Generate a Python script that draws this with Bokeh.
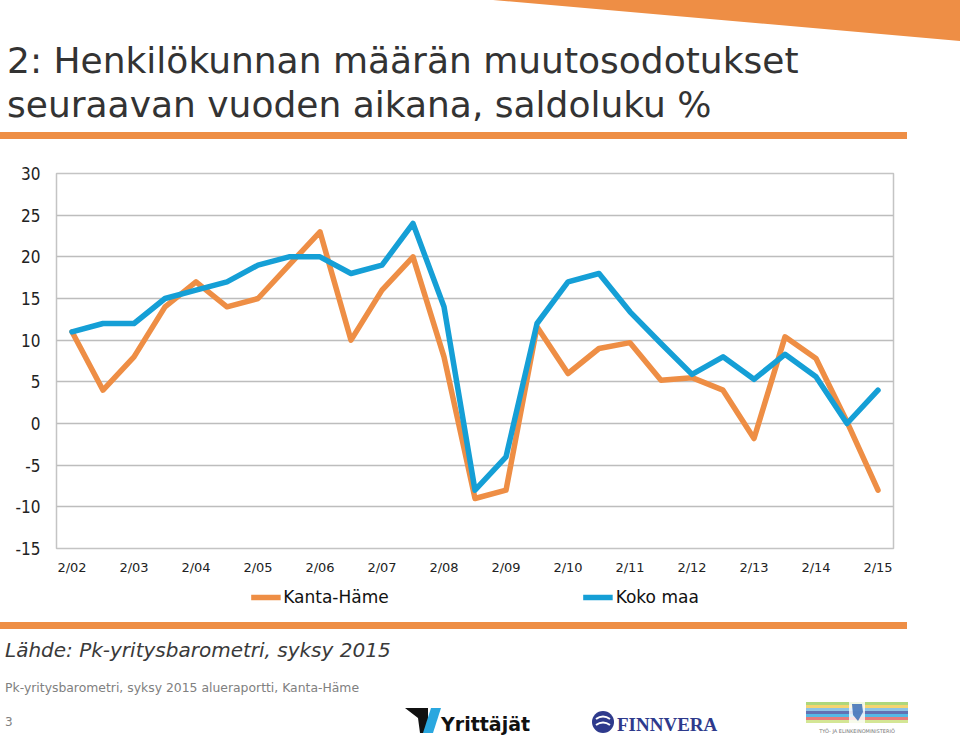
from bokeh.plotting import figure
from bokeh.layouts import column
from bokeh.models import (Range1d, FixedTicker, ColumnDataSource, Legend, LegendItem, Div)
from bokeh.embed import file_html
from bokeh.resources import INLINE

# ---- data ----
periods = ["2/02", "1/03", "2/03", "1/04", "2/04", "1/05", "2/05", "1/06", "2/06",
           "1/07", "2/07", "1/08", "2/08", "1/09", "2/09", "1/10", "2/10", "1/11",
           "2/11", "1/12", "2/12", "1/13", "2/13", "1/14", "2/14", "1/15", "2/15"]
kanta_hame = [11, 4, 8, 14, 17, 14, 15, 19, 23, 10, 16, 20, 8, -9, -8, 11.6, 6, 9,
              9.7, 5.2, 5.5, 4, -1.8, 10.4, 7.8, 0.2, -8]
koko_maa = [11, 12, 12, 15, 16, 17, 19, 20, 20, 18, 19, 24, 14, -8, -4, 12, 17, 18,
            13.4, 9.6, 5.9, 8, 5.3, 8.3, 5.6, 0, 4]
y_ticks = [-15, -10, -5, 0, 5, 10, 15, 20, 25, 30]
series_names = ["Kanta-Häme", "Koko maa"]

title_lines = ["2: Henkilökunnan määrän muutosodotukset",
               "seuraavan vuoden aikana, saldoluku %"]
source_text = "Lähde: Pk-yritysbarometri, syksy 2015"
footer_text = "Pk-yritysbarometri, syksy 2015 alueraportti, Kanta-Häme"
page_no = "3"
logo_texts = ["Yrittäjät", "FINNVERA", "TYÖ- JA ELINKEINOMINISTERIÖ"]

ORANGE = "#EE8E45"
BLUE = "#159FD6"
W = 960
HEAD_H = 160                      # header 0-160
CHART_H = 417                     # chart 160-577
LEG_H = 40                        # legend 577-617
FOOT_TOP = HEAD_H + CHART_H + LEG_H
FOOT_H = 744 - FOOT_TOP           # footer 617-744
FL, FR, FT, FB = 56, 893, 173, 548  # chart frame edges in page pixels


def svg_div(height, top, body):
    svg = (f'<svg xmlns="http://www.w3.org/2000/svg" width="{W}" height="{height}" '
           f'style="display:block" viewBox="0 {top} {W} {height}">{body}</svg>')
    return Div(text=svg, width=W, height=height, margin=0,
               styles={"margin": "0", "padding": "0", "line-height": "0"})


def svg_text(x, y, txt, size, color, family="DejaVu Sans", style="normal",
             weight="normal", anchor="start"):
    css = (f"font-family:'{family}';font-size:{size}px;font-style:{style};"
           f"font-weight:{weight};fill:{color}")
    return f'<text x="{x}" y="{y}" text-anchor="{anchor}" style="{css}">{txt}</text>'


# ---------------- header ----------------
head_body = f'<polygon points="493,0 960,0 960,41" fill="{ORANGE}"/>'
for txt, base in zip(title_lines, (73, 117)):
    head_body += svg_text(7, base, txt, 36, "#333333")
head_body += f'<rect x="0" y="132" width="907" height="7" fill="{ORANGE}"/>'
head = svg_div(HEAD_H, 0, head_body)

# ---------------- chart ----------------
idx = list(range(len(periods)))
src = ColumnDataSource(dict(x=idx, kh=kanta_hame, km=koko_maa))

p = figure(width=W, height=CHART_H, output_backend="svg", toolbar_location=None,
           x_range=Range1d(-0.5, len(periods) - 0.5), y_range=Range1d(-15, 30),
           min_border_left=FL, min_border_right=W - FR, min_border_top=FT - HEAD_H,
           min_border_bottom=HEAD_H + CHART_H - FB, margin=0)
p.background_fill_color = "white"
p.border_fill_color = "white"
p.outline_line_color = "#C4C4C4"
p.outline_line_width = 1.5

p.line("x", "kh", source=src, line_color=ORANGE, line_width=5.5,
       line_join="round", line_cap="round")
p.line("x", "km", source=src, line_color=BLUE, line_width=5.5,
       line_join="round", line_cap="round")

p.xgrid.visible = False
p.ygrid.grid_line_color = "#BDBDBD"
p.ygrid.grid_line_width = 1.5
p.yaxis.ticker = FixedTicker(ticks=y_ticks)
p.yaxis.major_label_overrides = {t: str(t) for t in y_ticks}
p.yaxis.axis_line_color = None
p.yaxis.major_tick_line_color = None
p.yaxis.minor_tick_line_color = None
p.yaxis.major_tick_out = 0
p.yaxis.major_tick_in = 0
p.yaxis.major_label_text_font = "DejaVu Sans Condensed"
p.yaxis.major_label_text_font_size = "17px"
p.yaxis.major_label_text_color = "#222222"
p.yaxis.major_label_standoff = 16

label_idx = [i for i, s in enumerate(periods) if s.startswith("2/")]
p.xaxis.ticker = FixedTicker(ticks=label_idx)
p.xaxis.major_label_overrides = {i: periods[i] for i in label_idx}
p.xaxis.axis_line_color = None
p.xaxis.major_tick_line_color = None
p.xaxis.minor_tick_line_color = None
p.xaxis.major_tick_out = 0
p.xaxis.major_tick_in = 0
p.xaxis.major_label_text_font = "DejaVu Sans"
p.xaxis.major_label_text_font_size = "13px"
p.xaxis.major_label_text_color = "#222222"
p.xaxis.major_label_standoff = 11

# ---------------- legend strip ----------------
# legend keys: the same series drawn in a range where they stay out of view
lg = figure(width=W, height=LEG_H, output_backend="svg", toolbar_location=None,
            x_range=Range1d(-3, -2), y_range=Range1d(0, 1), x_axis_type=None,
            y_axis_type=None, min_border=0, margin=0)
lg.grid.visible = False
lg.outline_line_color = None
lr1 = lg.line("x", "kh", source=src, line_color=ORANGE, line_width=5.5)
lr2 = lg.line("x", "km", source=src, line_color=BLUE, line_width=5.5)
legend = Legend(items=[LegendItem(label=series_names[0], renderers=[lr1]),
                       LegendItem(label=series_names[1], renderers=[lr2])],
                orientation="horizontal", location="center", spacing=194,
                glyph_width=30, glyph_height=20, label_standoff=3,
                border_line_color=None, background_fill_alpha=0,
                label_text_font="DejaVu Sans", label_text_font_size="17px",
                label_text_color="#111111", margin=0, padding=2)
lg.add_layout(legend)

# ---------------- footer ----------------
foot_body = f'<rect x="0" y="622" width="907" height="7" fill="{ORANGE}"/>'
foot_body += svg_text(5, 657, source_text, 20, "#3a3a3a", style="italic")
foot_body += svg_text(5, 692, footer_text, 12.4, "#808080")
foot_body += svg_text(5, 726, page_no, 12, "#808080")
# logos (approximate)
foot_body += '<polygon points="405,708 428,708 428,733 420,733 418,718" fill="#111111"/>'
foot_body += '<polygon points="431,708 441,708 433,733 423,733" fill="#2AA7DF"/>'
foot_body += svg_text(441, 731, logo_texts[0], 19, "#111111", weight="bold")
foot_body += '<circle cx="603" cy="722" r="11" fill="#2E3A8C"/>'
foot_body += ('<path d="M596,719 Q603,714 610,719 M596,725 Q603,720 610,725" '
              'stroke="white" stroke-width="2" fill="none"/>')
foot_body += svg_text(617, 731, logo_texts[1], 19, "#2E3A8C", family="Liberation Serif",
                      weight="bold")
stripe_cols = ["#9ACD5A", "#F2C94C", "#6FB5E0", "#3A4FA0", "#2AA7DF", "#E05A5A", "#C9E07A"]
for i, c in enumerate(stripe_cols):
    foot_body += (f'<rect x="806" y="{702 + 3 * i}" width="102" height="3" fill="{c}" '
                  f'fill-opacity="0.8"/>')
foot_body += '<rect x="849" y="700" width="16" height="23" fill="white" fill-opacity="0.8"/>'
foot_body += ('<path d="M852,704 L862,704 L863,712 L858,721 L853,715 Z" '
              'fill="#3B6FB6" fill-opacity="0.85"/>')
foot_body += svg_text(857, 733, logo_texts[2], 5, "#777777", anchor="middle")
foot = svg_div(FOOT_H, FOOT_TOP, foot_body)

layout = column(head, p, lg, foot, spacing=0, margin=0)
open("out.html", "w").write(file_html(layout, INLINE))
